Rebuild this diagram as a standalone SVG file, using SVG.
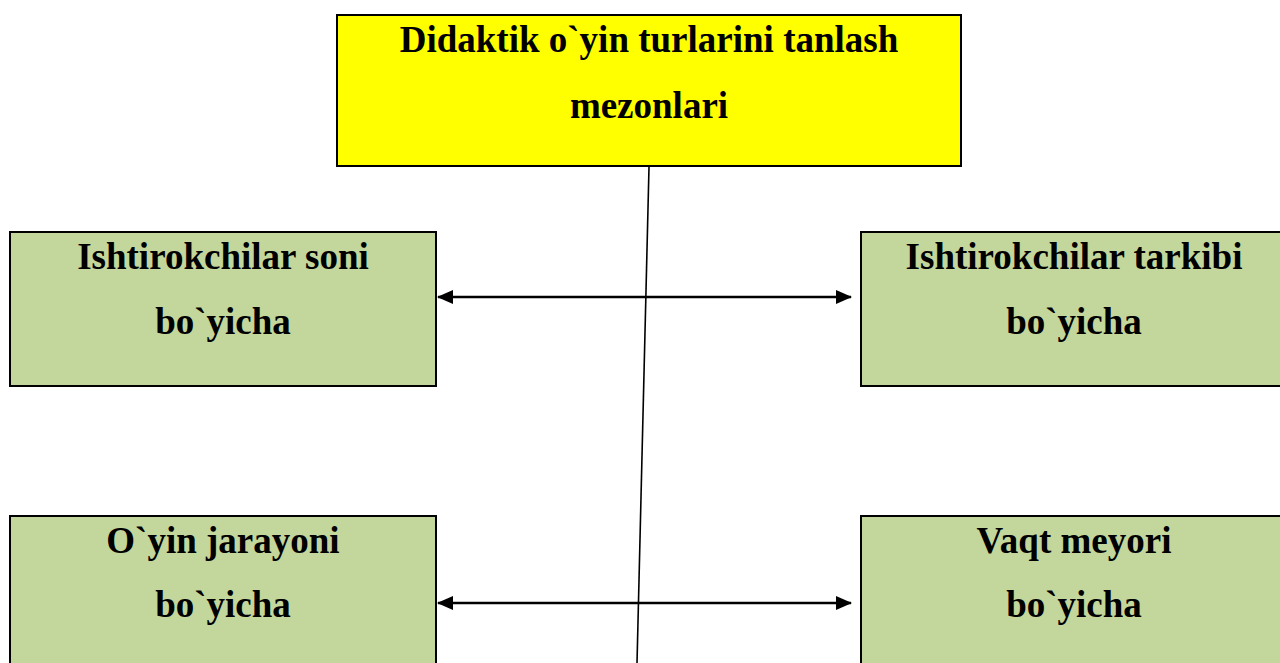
<svg xmlns="http://www.w3.org/2000/svg" width="1280" height="663" viewBox="0 0 1280 663">
<style>
.box{stroke:#000;stroke-width:2}
.y{fill:#FFFF00}
.g{fill:#C3D69B}
.t{font-family:"Liberation Serif","Times New Roman",serif;font-weight:bold;font-size:37px;text-anchor:middle;fill:#000}
.c{stroke:#000;fill:none}
</style>
<defs>
<marker id="ah" viewBox="0 0 16 14" refX="15" refY="7" markerWidth="16" markerHeight="14" markerUnits="userSpaceOnUse" orient="auto-start-reverse">
<path d="M0,0 L16,7 L0,14 Z" fill="#000"/>
</marker>
</defs>
<rect width="1280" height="663" fill="#fff"/>
<g id="connectors">
<line class="c" x1="649" y1="167" x2="637" y2="663" stroke-width="1.6"/>
<line class="c" x1="438" y1="297" x2="851" y2="297" stroke-width="2.5" marker-start="url(#ah)" marker-end="url(#ah)"/>
<line class="c" x1="438" y1="603" x2="851" y2="603" stroke-width="2.5" marker-start="url(#ah)" marker-end="url(#ah)"/>
</g>
<g id="node-top">
<rect class="box y" x="337" y="15" width="624" height="151"/>
<text class="t" x="649" y="52">Didaktik o`yin turlarini tanlash</text>
<text class="t" x="649" y="118">mezonlari</text>
</g>
<g id="node-soni">
<rect class="box g" x="10" y="232" width="426" height="154"/>
<text class="t" x="223" y="269">Ishtirokchilar soni</text>
<text class="t" x="223" y="334">bo`yicha</text>
</g>
<g id="node-tarkibi">
<rect class="box g" x="861" y="232" width="430" height="154"/>
<text class="t" x="1074" y="269">Ishtirokchilar tarkibi</text>
<text class="t" x="1074" y="334">bo`yicha</text>
</g>
<g id="node-jarayoni">
<rect class="box g" x="10" y="516" width="426" height="160"/>
<text class="t" x="223" y="553">O`yin jarayoni</text>
<text class="t" x="223" y="617">bo`yicha</text>
</g>
<g id="node-vaqt">
<rect class="box g" x="861" y="516" width="430" height="160"/>
<text class="t" x="1074" y="553">Vaqt meyori</text>
<text class="t" x="1074" y="617">bo`yicha</text>
</g>
</svg>
